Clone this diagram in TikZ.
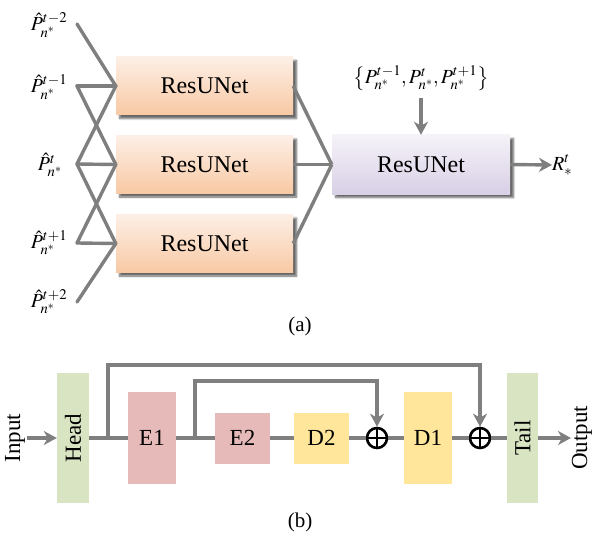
\documentclass[tikz,border=0pt]{standalone}
\usepackage{mathptmx}
\usepackage[no-math]{fontspec}
\setmainfont{Liberation Serif}
\usepackage{graphicx}
\usetikzlibrary{arrows.meta,shadows.blur,calc}
\definecolor{linegray}{HTML}{7F7F7F}
\definecolor{peachtop}{HTML}{FDEFE6}
\definecolor{peachbot}{HTML}{F8C9A4}
\definecolor{lavtop}{HTML}{F5F2F8}
\definecolor{lavbot}{HTML}{D8D0E6}
\definecolor{greenbox}{HTML}{D8E4C2}
\definecolor{redbox}{HTML}{E6BAB9}
\definecolor{yellowbox}{HTML}{FFE69B}
\tikzset{
  conn/.style={draw=linegray, line width=3.4pt},
  arr/.style={conn, -{Stealth[length=13pt,width=14pt,inset=4pt]}},
  resbox/.style={minimum width=177pt, minimum height=58pt, inner sep=0pt,
     top color=peachtop, bottom color=peachbot, draw=none,
     blur shadow={shadow xshift=3.5pt, shadow yshift=-3.5pt, shadow blur steps=6, shadow opacity=60},
     font=\fontsize{24}{28}\selectfont},
  fusebox/.style={resbox, top color=lavtop, bottom color=lavbot, minimum width=178pt, minimum height=59pt},
  blk/.style={inner sep=0pt, draw=none, font=\fontsize{23}{27}\selectfont},
  lab/.style={inner sep=0pt, font=\fontsize{20}{24}\selectfont},
  sumnode/.style={circle, draw=black, line width=2.6pt, minimum size=20pt, inner sep=0pt},
  captext/.style={inner sep=0pt, font=\fontsize{21}{25}\selectfont},
}
\begin{document}
\begin{tikzpicture}[x=1pt,y=-1pt]
\useasboundingbox (0,0) rectangle (599,540);
% ---------- (a) ----------
\node[lab] (l1) at (49,25) {$\hat{P}^{t-2}_{n^*}$};
\node[lab] (l2) at (49,87) {$\hat{P}^{t-1}_{n^*}$};
\node[lab] (l3) at (50,165) {$\hat{P}^{t}_{n^*}$};
\node[lab] (l4) at (49,243) {$\hat{P}^{t+1}_{n^*}$};
\node[lab] (l5) at (49,302) {$\hat{P}^{t+2}_{n^*}$};
\coordinate (c1) at (77,24);
\coordinate (c2) at (77,86);
\coordinate (c3) at (77,164);
\coordinate (c4) at (77,243);
\coordinate (c5) at (77,302);
\node[resbox] (r1) at (204.5,86) {ResUNet};
\node[resbox] (r2) at (204.5,164.5) {ResUNet};
\node[resbox] (r3) at (204.5,243.5) {ResUNet};
\node[fusebox] (r4) at (421,164.5) {ResUNet};
\draw[conn, line cap=round] (c1) -- (r1.west);
\draw[conn, line cap=round] (c2) -- (r1.west);
\draw[conn, line cap=round] (c3) -- (r1.west);
\draw[conn, line cap=round] (c2) -- (r2.west);
\draw[conn, line cap=round] (c3) -- (r2.west);
\draw[conn, line cap=round] (c4) -- (r2.west);
\draw[conn, line cap=round] (c3) -- (r3.west);
\draw[conn, line cap=round] (c4) -- (r3.west);
\draw[conn, line cap=round] (c5) -- (r3.west);
\draw[conn] (r1.east) -- (r4.west);
\draw[conn] (r2.east) -- (r4.west);
\draw[conn] (r3.east) -- (r4.west);
\node[lab] (set) at (421,78) {$\left\{P^{t-1}_{n^*},P^{t}_{n^*},P^{t+1}_{n^*}\right\}$};
\coordinate (sa) at (421,98);
\draw[arr] (sa) -- (r4.north);
\node[lab, anchor=west] (rt) at (552,165) {$R^{t}_{*}$};
\draw[arr] (r4.east) -- (rt.west);
\node[captext] (capa) at (300,326) {(a)};
% ---------- (b) ----------
\node[blk, fill=greenbox, minimum width=32pt, minimum height=130pt] (head) at (73,438) {\rotatebox{90}{Head}};
\node[blk, fill=redbox, minimum width=48pt, minimum height=92pt] (e1) at (152,438) {E1};
\node[blk, fill=redbox, minimum width=55pt, minimum height=51pt] (e2) at (242.5,438) {E2};
\node[blk, fill=yellowbox, minimum width=55pt, minimum height=51pt] (d2) at (321.5,438) {D2};
\node[sumnode] (s1) at (377,438) {};
\node[blk, fill=yellowbox, minimum width=48pt, minimum height=92pt] (d1) at (428,438) {D1};
\node[sumnode] (s2) at (480,438) {};
\node[blk, fill=greenbox, minimum width=31pt, minimum height=130pt] (tail) at (522.5,438) {\rotatebox{90}{Tail}};
\foreach \s in {s1,s2}{
  \draw[black, line width=2.6pt] (\s.north) -- (\s.south) (\s.west) -- (\s.east);
}
\node[blk] (inp) at (15,438) {\rotatebox{90}{Input}};
\node[blk] (outp) at (582,438) {\rotatebox{90}{Output}};
\coordinate (ia) at (27,438);
\coordinate (oa) at (571,438);
\draw[arr] (ia) -- (head.west);
\draw[conn] (head.east) -- (e1.west);
\draw[conn] (e1.east) -- (e2.west);
\draw[conn] (e2.east) -- (d2.west);
\draw[conn] (d2.east) -- (s1.west);
\draw[conn] (s1.east) -- (d1.west);
\draw[conn] (d1.east) -- (s2.west);
\draw[conn] (s2.east) -- (tail.west);
\draw[arr] (tail.east) -- (oa);
\coordinate (k1) at (108,438);
\coordinate (k2) at (195,438);
\draw[arr, line join=miter] (k1) -- ++(0,-73) -| (s2.north);
\draw[arr, line join=miter] (k2) -- ++(0,-57) -| (s1.north);
\node[captext] (capb) at (300,522) {(b)};
\end{tikzpicture}
\end{document}
